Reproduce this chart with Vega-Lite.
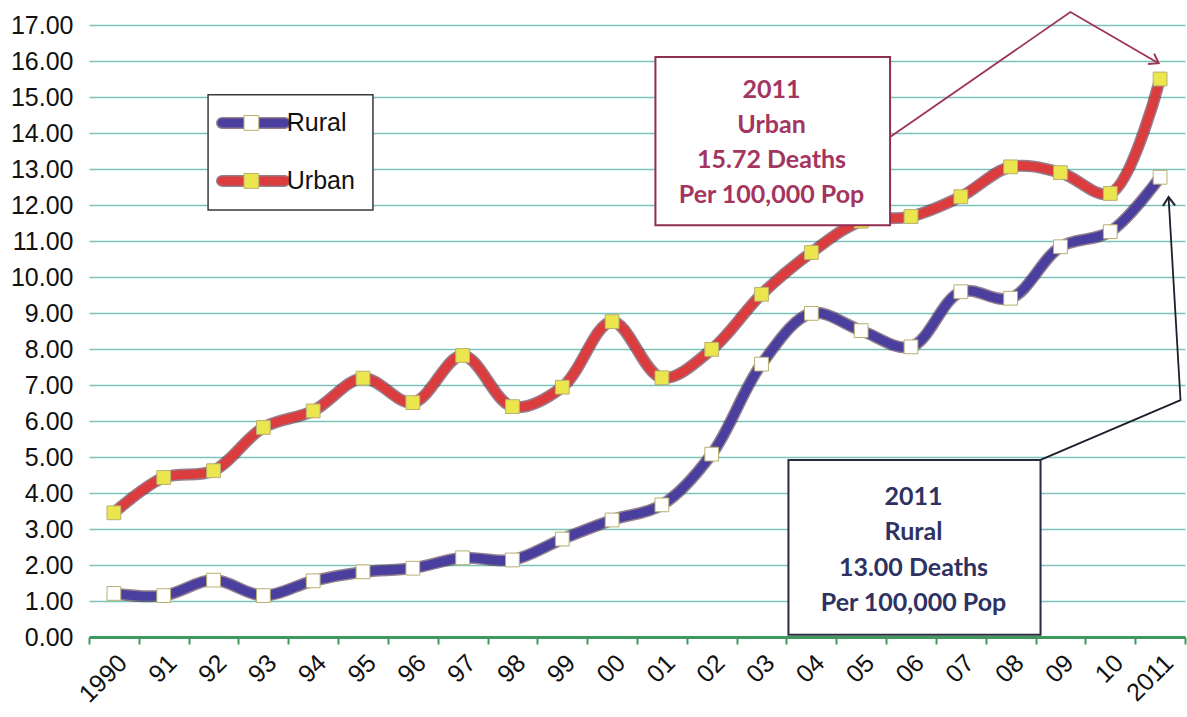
{
  "$schema": "https://vega.github.io/schema/vega-lite/v6.json",
  "autosize": {"type": "none"},
  "width": 1096,
  "height": 612,
  "padding": {"left": 89, "top": 25, "right": 2, "bottom": 80},
  "background": "white",
  "config": {
    "view": {"stroke": null},
    "font": "Liberation Sans"
  },
  "datasets": {
    "rates": [
      {"year": "1990", "series": "Rural", "rate": 1.21},
      {"year": "91", "series": "Rural", "rate": 1.15},
      {"year": "92", "series": "Rural", "rate": 1.58},
      {"year": "93", "series": "Rural", "rate": 1.15},
      {"year": "94", "series": "Rural", "rate": 1.56},
      {"year": "95", "series": "Rural", "rate": 1.81},
      {"year": "96", "series": "Rural", "rate": 1.91},
      {"year": "97", "series": "Rural", "rate": 2.2},
      {"year": "98", "series": "Rural", "rate": 2.14},
      {"year": "99", "series": "Rural", "rate": 2.72},
      {"year": "00", "series": "Rural", "rate": 3.25},
      {"year": "01", "series": "Rural", "rate": 3.67},
      {"year": "02", "series": "Rural", "rate": 5.08},
      {"year": "03", "series": "Rural", "rate": 7.58},
      {"year": "04", "series": "Rural", "rate": 8.99},
      {"year": "05", "series": "Rural", "rate": 8.51},
      {"year": "06", "series": "Rural", "rate": 8.06},
      {"year": "07", "series": "Rural", "rate": 9.59},
      {"year": "08", "series": "Rural", "rate": 9.41},
      {"year": "09", "series": "Rural", "rate": 10.84},
      {"year": "10", "series": "Rural", "rate": 11.26},
      {"year": "2011", "series": "Rural", "rate": 12.77},
      {"year": "1990", "series": "Urban", "rate": 3.45},
      {"year": "91", "series": "Urban", "rate": 4.43},
      {"year": "92", "series": "Urban", "rate": 4.62},
      {"year": "93", "series": "Urban", "rate": 5.82},
      {"year": "94", "series": "Urban", "rate": 6.28},
      {"year": "95", "series": "Urban", "rate": 7.19},
      {"year": "96", "series": "Urban", "rate": 6.51},
      {"year": "97", "series": "Urban", "rate": 7.82},
      {"year": "98", "series": "Urban", "rate": 6.4},
      {"year": "99", "series": "Urban", "rate": 6.94},
      {"year": "00", "series": "Urban", "rate": 8.76},
      {"year": "01", "series": "Urban", "rate": 7.2},
      {"year": "02", "series": "Urban", "rate": 7.99},
      {"year": "03", "series": "Urban", "rate": 9.52},
      {"year": "04", "series": "Urban", "rate": 10.68},
      {"year": "05", "series": "Urban", "rate": 11.55},
      {"year": "06", "series": "Urban", "rate": 11.68},
      {"year": "07", "series": "Urban", "rate": 12.23},
      {"year": "08", "series": "Urban", "rate": 13.06},
      {"year": "09", "series": "Urban", "rate": 12.9},
      {"year": "10", "series": "Urban", "rate": 12.32},
      {"year": "2011", "series": "Urban", "rate": 15.5}
    ],
    "boxes": [
      {"ann": "Urban", "x1": 10.87, "x2": 15.58, "y1": 11.44, "y2": 16.11},
      {"ann": "Rural", "x1": 13.54, "x2": 18.6, "y1": 0.06, "y2": 4.92},
      {"ann": "Legend", "x1": 1.89, "x2": 5.2, "y1": 11.86, "y2": 15.06}
    ],
    "legendRows": [
      {"series": "Rural", "xa": 2.17, "xb": 3.43, "xm": 2.76, "xl": 3.47, "y": 14.28},
      {"series": "Urban", "xa": 2.17, "xb": 3.43, "xm": 2.76, "xl": 3.47, "y": 12.67}
    ],
    "labels": [
      {"ann": "Urban", "x": 13.2, "y": 15.19, "text": "2011"},
      {"ann": "Urban", "x": 13.2, "y": 14.22, "text": "Urban"},
      {"ann": "Urban", "x": 13.2, "y": 13.25, "text": "15.72 Deaths"},
      {"ann": "Urban", "x": 13.2, "y": 12.28, "text": "Per 100,000 Pop"},
      {"ann": "Rural", "x": 16.05, "y": 3.89, "text": "2011"},
      {"ann": "Rural", "x": 16.05, "y": 2.92, "text": "Rural"},
      {"ann": "Rural", "x": 16.05, "y": 1.92, "text": "13.00 Deaths"},
      {"ann": "Rural", "x": 16.05, "y": 0.94, "text": "Per 100,000 Pop"}
    ],
    "arrows": [
      {"ann": "Urban", "k": 1, "x": 15.58, "y": 13.89},
      {"ann": "Urban", "k": 2, "x": 19.2, "y": 17.36},
      {"ann": "Urban", "k": 3, "x": 20.97, "y": 15.94},
      {"ann": "Rural", "k": 1, "x": 18.6, "y": 4.92},
      {"ann": "Rural", "k": 2, "x": 21.41, "y": 6.58},
      {"ann": "Rural", "k": 3, "x": 21.17, "y": 12.22}
    ],
    "heads": [
      {"ann": "Urban", "x": 20.97, "y": 15.94, "angle": 30},
      {"ann": "Rural", "x": 21.17, "y": 12.22, "angle": 267}
    ]
  },
  "resolve": {"scale": {"x": "independent", "y": "independent"}},
  "layer": [
    {
      "data": {"name": "rates"},
      "encoding": {
        "x": {
          "field": "year",
          "type": "ordinal",
          "sort": null,
          "scale": {"type": "band", "paddingInner": 0, "paddingOuter": 0,
            "domain": ["1990","91","92","93","94","95","96","97","98","99","00","01","02","03","04","05","06","07","08","09","10","2011"]},
          "axis": {
            "title": null,
            "labelAngle": -45,
            "labelFontSize": 25,
            "labelFont": "Liberation Sans",
            "labelColor": "#111111",
            "labelOverlap": false,
            "domainColor": "#3E9A5C",
            "domainWidth": 3,
            "tickColor": "#3E9A5C",
            "tickWidth": 2,
            "tickSize": 7,
            "tickBand": "extent",
            "labelPadding": 6,
            "grid": false
          }
        },
        "y": {
          "field": "rate",
          "type": "quantitative",
          "scale": {"domain": [0, 17], "nice": false},
          "axis": {
            "title": null,
            "format": ".2f",
            "values": [0,1,2,3,4,5,6,7,8,9,10,11,12,13,14,15,16,17],
            "labelFontSize": 25,
            "labelFont": "Liberation Sans",
            "labelColor": "#111111",
            "labelOverlap": false,
            "labelBound": false,
            "ticks": false,
            "domain": false,
            "gridColor": "#7CC3BC",
            "gridWidth": 1.3,
            "labelPadding": 16
          }
        }
      },
      "layer": [
        {
          "mark": {"type": "line", "interpolate": "catmull-rom", "strokeWidth": 12, "strokeCap": "round", "stroke": "#3A1630", "strokeOpacity": 0.55},
          "encoding": {
            "detail": {"field": "series"}
          }
        },
        {
          "mark": {"type": "line", "interpolate": "catmull-rom", "strokeWidth": 9, "strokeCap": "round"},
          "encoding": {
            "color": {"field": "series", "type": "nominal",
              "scale": {"domain": ["Rural", "Urban"], "range": ["#4A3F9E", "#DB3D3F"]},
              "legend": null}
          }
        },
        {
          "mark": {"type": "point", "shape": "square", "filled": true, "size": 190, "strokeWidth": 1, "stroke": "#B8B070", "opacity": 1},
          "encoding": {
            "fill": {"field": "series", "type": "nominal", "scale": {"domain": ["Rural", "Urban"], "range": ["#FFFFFF", "#ECE64E"]}, "legend": null}
          }
        }
      ]
    },
    {
      "layer": [
        {
          "data": {"name": "boxes"},
          "transform": [{"filter": "datum.ann == 'Urban'"}],
          "mark": {"type": "rect", "fill": "white", "stroke": "#8E2F52", "strokeWidth": 2},
          "encoding": {
            "x": {"field": "x1", "type": "quantitative", "scale": {"domain": [-0.5, 21.5], "nice": false, "zero": false}, "axis": null},
            "x2": {"field": "x2"},
            "y": {"field": "y1", "type": "quantitative", "scale": {"domain": [0, 17], "nice": false, "zero": true}, "axis": null},
            "y2": {"field": "y2"}
          }
        },
        {
          "data": {"name": "boxes"},
          "transform": [{"filter": "datum.ann == 'Rural'"}],
          "mark": {"type": "rect", "fill": "white", "stroke": "#2A2A40", "strokeWidth": 2},
          "encoding": {
            "x": {"field": "x1", "type": "quantitative", "axis": null},
            "x2": {"field": "x2"},
            "y": {"field": "y1", "type": "quantitative", "axis": null},
            "y2": {"field": "y2"}
          }
        },
        {
          "data": {"name": "boxes"},
          "transform": [{"filter": "datum.ann == 'Legend'"}],
          "mark": {"type": "rect", "fill": "white", "stroke": "#3A3A3A", "strokeWidth": 1.5},
          "encoding": {
            "x": {"field": "x1", "type": "quantitative", "axis": null},
            "x2": {"field": "x2"},
            "y": {"field": "y1", "type": "quantitative", "axis": null},
            "y2": {"field": "y2"}
          }
        },
        {
          "data": {"name": "legendRows"},
          "mark": {"type": "rule", "strokeWidth": 12, "strokeCap": "round", "stroke": "#3A1630", "strokeOpacity": 0.55},
          "encoding": {
            "x": {"field": "xa", "type": "quantitative", "axis": null},
            "x2": {"field": "xb"},
            "y": {"field": "y", "type": "quantitative", "axis": null}
          }
        },
        {
          "data": {"name": "legendRows"},
          "mark": {"type": "rule", "strokeWidth": 9, "strokeCap": "round"},
          "encoding": {
            "x": {"field": "xa", "type": "quantitative", "axis": null},
            "x2": {"field": "xb"},
            "y": {"field": "y", "type": "quantitative", "axis": null},
            "color": {"field": "series", "type": "nominal", "legend": null}
          }
        },
        {
          "data": {"name": "legendRows"},
          "mark": {"type": "point", "shape": "square", "filled": true, "size": 220, "strokeWidth": 1, "stroke": "#B8B070", "opacity": 1},
          "encoding": {
            "x": {"field": "xm", "type": "quantitative", "axis": null},
            "y": {"field": "y", "type": "quantitative", "axis": null},
            "fill": {"field": "series", "type": "nominal", "legend": null}
          }
        },
        {
          "data": {"name": "legendRows"},
          "mark": {"type": "text", "font": "Liberation Sans", "fontSize": 25, "color": "#111111", "align": "left", "baseline": "middle"},
          "encoding": {
            "x": {"field": "xl", "type": "quantitative", "axis": null},
            "y": {"field": "y", "type": "quantitative", "axis": null},
            "text": {"field": "series"}
          }
        },
        {
          "data": {"name": "labels"},
          "transform": [{"filter": "datum.ann == 'Urban'"}],
          "mark": {"type": "text", "font": "Lato", "fontWeight": "bold", "fontSize": 25, "color": "#A33560", "align": "center", "baseline": "middle"},
          "encoding": {
            "x": {"field": "x", "type": "quantitative", "axis": null},
            "y": {"field": "y", "type": "quantitative", "axis": null},
            "text": {"field": "text"}
          }
        },
        {
          "data": {"name": "labels"},
          "transform": [{"filter": "datum.ann == 'Rural'"}],
          "mark": {"type": "text", "font": "Lato", "fontWeight": "bold", "fontSize": 25, "color": "#2E3262", "align": "center", "baseline": "middle"},
          "encoding": {
            "x": {"field": "x", "type": "quantitative", "axis": null},
            "y": {"field": "y", "type": "quantitative", "axis": null},
            "text": {"field": "text"}
          }
        },
        {
          "data": {"name": "arrows"},
          "transform": [{"filter": "datum.ann == 'Urban'"}],
          "mark": {"type": "line", "stroke": "#9C3456", "strokeWidth": 1.8},
          "encoding": {
            "x": {"field": "x", "type": "quantitative", "axis": null},
            "y": {"field": "y", "type": "quantitative", "axis": null},
            "order": {"field": "k"}
          }
        },
        {
          "data": {"name": "arrows"},
          "transform": [{"filter": "datum.ann == 'Rural'"}],
          "mark": {"type": "line", "stroke": "#1E1E2E", "strokeWidth": 1.8},
          "encoding": {
            "x": {"field": "x", "type": "quantitative", "axis": null},
            "y": {"field": "y", "type": "quantitative", "axis": null},
            "order": {"field": "k"}
          }
        },
        {
          "data": {"name": "heads"},
          "transform": [{"filter": "datum.ann == 'Urban'"}],
          "mark": {"type": "point", "shape": "M -1 -0.7 L 0 0 L -1 0.7", "filled": false, "stroke": "#9C3456", "strokeWidth": 2, "size": 300, "opacity": 1},
          "encoding": {
            "x": {"field": "x", "type": "quantitative", "axis": null},
            "y": {"field": "y", "type": "quantitative", "axis": null},
            "angle": {"field": "angle", "type": "quantitative", "scale": null}
          }
        },
        {
          "data": {"name": "heads"},
          "transform": [{"filter": "datum.ann == 'Rural'"}],
          "mark": {"type": "point", "shape": "M -1 -0.7 L 0 0 L -1 0.7", "filled": false, "stroke": "#1E1E2E", "strokeWidth": 2, "size": 300, "opacity": 1},
          "encoding": {
            "x": {"field": "x", "type": "quantitative", "axis": null},
            "y": {"field": "y", "type": "quantitative", "axis": null},
            "angle": {"field": "angle", "type": "quantitative", "scale": null}
          }
        }
      ]
    }
  ]
}
